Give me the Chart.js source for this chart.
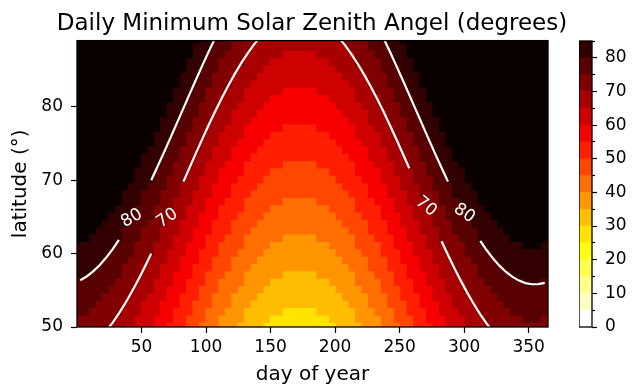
<!DOCTYPE html>
<html>
<head>
<meta charset="utf-8">
<script src="https://cdn.jsdelivr.net/npm/chart.js@4.4.1/dist/chart.umd.min.js"></script>
<style>
  html, body { margin: 0; padding: 0; background: #fff; }
  #wrap { position: relative; width: 633px; height: 386px; }
  #main { position: absolute; left: 0; top: 0; }
  #cbar { position: absolute; left: 579px; top: 0; }
</style>
</head>
<body>
<div id="wrap">
  <canvas id="main" width="633" height="386"></canvas>
  <canvas id="cbar" width="54" height="386"></canvas>
</div>
<script>
// day of year at the middle of each 5-day column
const days = [2.5, 7.5, 12.5, 17.5, 22.5, 27.5, 32.5, 37.5, 42.5, 47.5, 52.5, 57.5, 62.5,
  67.5, 72.5, 77.5, 82.5, 87.5, 92.5, 97.5, 102.5, 107.5, 112.5, 117.5, 122.5, 127.5,
  132.5, 137.5, 142.5, 147.5, 152.5, 157.5, 162.5, 167.5, 172.5, 177.5, 182.5, 187.5,
  192.5, 197.5, 202.5, 207.5, 212.5, 217.5, 222.5, 227.5, 232.5, 237.5, 242.5, 247.5,
  252.5, 257.5, 262.5, 267.5, 272.5, 277.5, 282.5, 287.5, 292.5, 297.5, 302.5, 307.5,
  312.5, 317.5, 322.5, 327.5, 332.5, 337.5, 342.5, 347.5, 352.5, 357.5, 362.5];

// sun declination (deg) for each column
const declination = [-23.64, -23.12, -22.43, -21.58, -20.58, -19.43, -18.14, -16.73,
  -15.20, -13.56, -11.83, -10.01, -8.12, -6.19, -4.21, -2.21, -0.20, 1.81, 3.81, 5.76,
  7.67, 9.51, 11.28, 12.95, 14.53, 15.99, 17.33, 18.54, 19.60, 20.51, 21.26, 21.85,
  22.27, 22.52, 22.60, 22.50, 22.24, 21.80, 21.19, 20.42, 19.49, 18.42, 17.20, 15.85,
  14.37, 12.79, 11.10, 9.33, 7.47, 5.56, 3.60, 1.61, -0.40, -2.41, -4.41, -6.39, -8.32,
  -10.20, -12.00, -13.72, -15.35, -16.87, -18.27, -19.55, -20.69, -21.68, -22.51,
  -23.18, -23.68, -24.02, -24.18, -24.17, -23.99];

// one row per degree of latitude
const latitudes = [50, 51, 52, 53, 54, 55, 56, 57, 58, 59, 60, 61, 62, 63, 64, 65, 66, 67,
  68, 69, 70, 71, 72, 73, 74, 75, 76, 77, 78, 79, 80, 81, 82, 83, 84, 85, 86, 87, 88, 89];

const levelEdges = [0, 5, 10, 15, 20, 25, 30, 35, 40, 45, 50, 55, 60, 65, 70, 75, 80, 85];
const contourLevels = [70, 80];

const xTicks = [50, 100, 150, 200, 250, 300, 350];
const yTicks = [50, 60, 70, 80];
const cbarTicks = [0, 10, 20, 30, 40, 50, 60, 70, 80];
const cbarMinor = [5, 15, 25, 35, 45, 55, 65, 75, 85];

const X_MIN = 0, X_MAX = 365, Y_MIN = 50, Y_MAX = 89;

// where the labels sit on each contour (index into days), which segments are cut out
const contourLabels = [
  { level: 80, at: 8, gap: [6, 11], angle: -30 },
  { level: 70, at: 13.5, gap: [11, 16], angle: -34 },
  { level: 70, at: 53.6, gap: [51, 56], angle: 39 },
  { level: 80, at: 59.5, gap: [57, 62], angle: 34 },
];

Chart.defaults.font.family = "'DejaVu Sans'";
Chart.defaults.font.size = 17;
Chart.defaults.color = '#000';

// matplotlib hot_r, 17 bands plus the "over" colour
function hotR(i, n) {
  const j = Math.floor(i * 255 / (n - 1));
  const x = 1 - j / 255;
  const r = x < 0.365079 ? 0.0416 + (1 - 0.0416) * x / 0.365079 : 1;
  const g = x < 0.365079 ? 0 : x < 0.746032 ? (x - 0.365079) / (0.746032 - 0.365079) : 1;
  const b = x < 0.746032 ? 0 : (x - 0.746032) / (1 - 0.746032);
  return 'rgb(' + Math.round(r * 255) + ',' + Math.round(g * 255) + ',' + Math.round(b * 255) + ')';
}
const nBands = levelEdges.length - 1;
const bandColors = levelEdges.map((_, i) => hotR(i, nBands + 1));

function bandOf(z) {
  for (let b = 0; b < nBands; b++) {
    if (z < levelEdges[b + 1]) return b;
  }
  return nBands; // above the top edge
}

// for each colour, one floating bar per column covering the rows in that band
const bandData = bandColors.map(() => []);
days.forEach((d, k) => {
  const spans = {};
  latitudes.forEach(lat => {
    const b = bandOf(lat - declination[k]);
    const lo = Math.max(lat - 0.5, Y_MIN), hi = Math.min(lat + 0.5, Y_MAX);
    if (hi <= lo) return;
    if (!spans[b]) spans[b] = [lo, hi];
    else { spans[b][0] = Math.min(spans[b][0], lo); spans[b][1] = Math.max(spans[b][1], hi); }
  });
  Object.keys(spans).forEach(b => bandData[b].push({ x: d, y: spans[b] }));
});

const heatSets = bandColors.map((c, b) => ({
  type: 'bar',
  data: bandData[b],
  backgroundColor: c,
  borderWidth: 0,
  barPercentage: 1,
  categoryPercentage: 1,
  inflateAmount: 0.6,
  grouped: false,
  order: 2,
}));

function inGap(level, i) {
  return contourLabels.some(l => l.level === level && i >= l.gap[0] && i < l.gap[1]);
}

const contourSets = contourLevels.map(lv => ({
  type: 'line',
  contourLevel: lv,
  data: days.map((d, k) => ({ x: d, y: lv + declination[k] })),
  borderColor: '#fff',
  borderWidth: 2.2,
  pointRadius: 0,
  tension: 0,
  clip: 0,
  order: 1,
  segment: {
    borderColor: ctx => inGap(lv, ctx.p0DataIndex) ? 'rgba(255,255,255,0)' : '#fff',
  },
}));

const extras = {
  id: 'extras',
  afterDatasetsDraw(chart) {
    const ctx = chart.ctx;
    ctx.save();
    ctx.font = "17px 'DejaVu Sans'";
    ctx.fillStyle = '#fff';
    ctx.textAlign = 'center';
    ctx.textBaseline = 'middle';
    contourLabels.forEach(lab => {
      const di = chart.data.datasets.findIndex(ds => ds.contourLevel === lab.level);
      const pts = chart.getDatasetMeta(di).data;
      const i0 = Math.floor(lab.at), i1 = Math.ceil(lab.at), f = lab.at - i0;
      const x = pts[i0].x + (pts[i1].x - pts[i0].x) * f;
      const y = pts[i0].y + (pts[i1].y - pts[i0].y) * f;
      ctx.save();
      ctx.translate(x, y);
      ctx.rotate(lab.angle * Math.PI / 180);
      ctx.fillText(String(lab.level), 0, 0);
      ctx.restore();
    });
    ctx.restore();
  },
  afterDraw(chart) {
    const { left, top, width, height } = chart.chartArea;
    const ctx = chart.ctx;
    ctx.save();
    ctx.strokeStyle = '#000';
    ctx.lineWidth = 1.3;
    ctx.strokeRect(left, top, width, height);
    ctx.restore();
  },
};

const tickGrid = len => ({
  display: true, drawOnChartArea: false, drawTicks: true, offset: false,
  tickLength: len, color: '#000', tickWidth: 1.2,
});

new Chart(document.getElementById('main'), {
  type: 'bar',
  data: { datasets: [...contourSets, ...heatSets] },
  options: {
    responsive: false,
    animation: false,
    devicePixelRatio: 1,
    // title centred over the plot: the box is 624 wide, the empty right axis keeps room for the colour bar
    layout: { padding: { left: 0, right: 9, top: 0, bottom: 0 } },
    plugins: {
      legend: { display: false },
      tooltip: { enabled: false },
      title: {
        display: true,
        text: 'Daily Minimum Solar Zenith Angel (degrees)',
        font: { size: 23, weight: 'normal' },
        color: '#000',
        padding: { top: 10, bottom: 3 },
      },
    },
    scales: {
      x: {
        type: 'linear',
        min: X_MIN, max: X_MAX,
        offset: false,
        afterBuildTicks: s => { s.ticks = xTicks.map(v => ({ value: v })); },
        ticks: { padding: 4, maxRotation: 0, autoSkip: false },
        grid: tickGrid(6),
        border: { display: false },
        title: { display: true, text: 'day of year', font: { size: 20 }, padding: { top: 0, bottom: -1 } },
        afterFit: s => { s.height = 59; },
      },
      y: {
        type: 'linear',
        min: Y_MIN, max: Y_MAX,
        afterBuildTicks: s => { s.ticks = yTicks.map(v => ({ value: v })); },
        ticks: { padding: 8 },
        grid: tickGrid(6),
        border: { display: false },
        title: { display: true, text: 'latitude (°)', font: { size: 20 }, padding: { top: 9, bottom: 0 } },
        afterFit: s => { s.width = 77; },
      },
      yRoom: {
        type: 'linear',
        position: 'right',
        display: true,
        grid: { display: false },
        ticks: { display: false },
        border: { display: false },
        afterFit: s => { s.width = 76; },
      },
    },
  },
  plugins: [extras],
});

// colour bar
const cbarFrame = {
  id: 'cbarFrame',
  afterDraw(chart) {
    const { left, top, width, height } = chart.chartArea;
    const ctx = chart.ctx;
    ctx.save();
    ctx.strokeStyle = '#000';
    ctx.lineWidth = 1.3;
    ctx.strokeRect(left, top, width, height);
    ctx.restore();
  },
};

new Chart(document.getElementById('cbar'), {
  type: 'bar',
  data: {
    labels: [''],
    datasets: levelEdges.slice(0, -1).map((lo, b) => ({
      data: [[lo, levelEdges[b + 1]]],
      backgroundColor: bandColors[b],
      borderWidth: 0,
      barPercentage: 1,
      categoryPercentage: 1,
      grouped: false,
    })),
  },
  options: {
    responsive: false,
    animation: false,
    devicePixelRatio: 1,
    layout: { padding: { left: 0, right: 0, top: 41, bottom: 59 } },
    plugins: { legend: { display: false }, tooltip: { enabled: false } },
    scales: {
      x: { display: false },
      yMinor: {
        position: 'right',
        weight: 0,
        min: 0, max: levelEdges[levelEdges.length - 1],
        afterBuildTicks: s => { s.ticks = cbarMinor.map(v => ({ value: v })); },
        ticks: { display: false },
        grid: tickGrid(3),
        border: { display: false },
        afterFit: s => { s.width = 0; },
      },
      y: {
        position: 'right',
        weight: 1,
        min: 0, max: levelEdges[levelEdges.length - 1],
        afterBuildTicks: s => { s.ticks = cbarTicks.map(v => ({ value: v })); },
        ticks: { padding: 8 },
        grid: tickGrid(5),
        border: { display: false },
        afterFit: s => { s.width = 41; },
      },
    },
  },
  plugins: [cbarFrame],
});
</script>
</body>
</html>
